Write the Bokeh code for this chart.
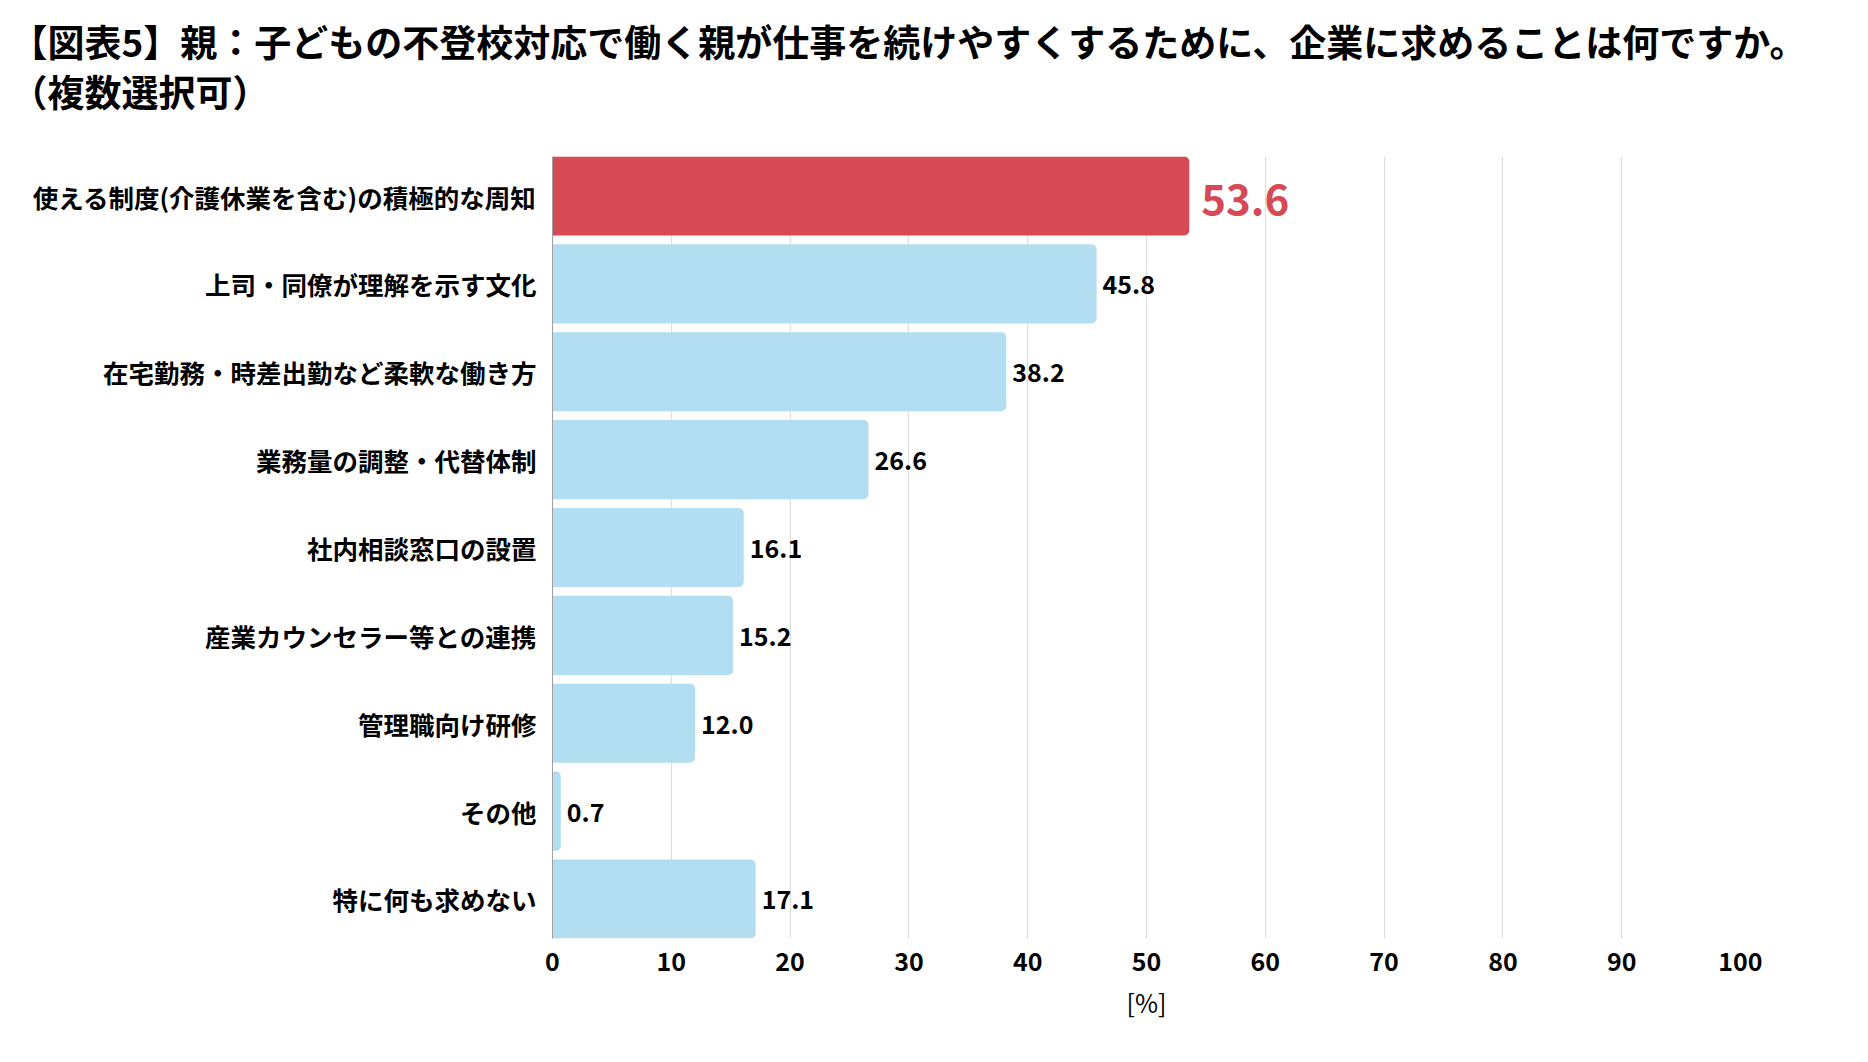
import numpy as np
from bokeh.plotting import figure
from bokeh.layouts import column
from bokeh.models import ColumnDataSource, Range1d, FixedTicker, Title
from bokeh.core.properties import value
from bokeh.embed import file_html
from bokeh.resources import INLINE

# data
categories = [
    "使える制度(介護休業を含む)の積極的な周知",
    "上司・同僚が理解を示す文化",
    "在宅勤務・時差出勤など柔軟な働き方",
    "業務量の調整・代替体制",
    "社内相談窓口の設置",
    "産業カウンセラー等との連携",
    "管理職向け研修",
    "その他",
    "特に何も求めない",
]
values = [53.6, 45.8, 38.2, 26.6, 16.1, 15.2, 12.0, 0.7, 17.1]
x_ticks = list(range(0, 101, 10))
title_lines = [
    "【図表5】親：子どもの不登校対応で働く親が仕事を続けやすくするために、企業に求めることは何ですか。",
    "（複数選択可）",
]
x_label = "[%]"

FONT = "Noto Sans CJK JP"
RED = "#d64a56"
BLUE = "#b3ddf0"

W = 1850
HT = 150          # height of the title strip
HP = 890          # height of the chart
FRAME_LEFT = 552

n = len(categories)
ypos = [n - 1 - i for i in range(n)]
colors = [RED] + [BLUE] * (n - 1)

src = ColumnDataSource(dict(
    y=ypos, v=values, color=colors,
    label=["{:.1f}".format(v) for v in values],
))

# title strip (an empty figure carrying only the title)
tf = figure(width=W, height=HT, output_backend="svg", toolbar_location=None,
            x_range=Range1d(0, 1), y_range=Range1d(0, 1),
            x_axis_type=None, y_axis_type=None,
            min_border_left=FRAME_LEFT, min_border_right=110,
            min_border_top=0, min_border_bottom=0)
tf.outline_line_color = None
tf.grid.visible = False
tf.title = Title(text="\n".join(title_lines), align="left",
                 offset=10 - FRAME_LEFT, standoff=24,
                 text_font=FONT, text_font_style="bold",
                 text_font_size="37px", text_line_height=0.93,
                 text_color="black")

p = figure(width=W, height=HP, output_backend="svg", toolbar_location=None,
           x_range=Range1d(0, 100), y_range=Range1d(-0.45, n - 1 + 0.45),
           min_border_left=FRAME_LEFT, min_border_right=110,
           min_border_top=156 - HT, min_border_bottom=102)
p.outline_line_color = None
p.background_fill_color = "white"
p.border_fill_color = "white"

# bars
p.hbar(y="y", left=0, right="v", height=0.9, source=src,
       fill_color="color", line_color=None,
       border_radius=(0, 5, 5, 0))

# value labels
src_main = ColumnDataSource({k: v[:1] for k, v in src.data.items()})
src_rest = ColumnDataSource({k: v[1:] for k, v in src.data.items()})
p.text(x="v", y="y", text="label", source=src_main,
       text_font=value(FONT), text_font_style="bold",
       text_font_size="42px", text_color=RED,
       text_align="left", text_baseline="middle", x_offset=12, y_offset=3)
p.text(x="v", y="y", text="label", source=src_rest,
       text_font=value(FONT), text_font_style="bold",
       text_font_size="25px", text_color="black",
       text_align="left", text_baseline="middle", x_offset=6, y_offset=1)

# axes
p.xaxis.ticker = FixedTicker(ticks=x_ticks)
p.xaxis.axis_line_color = None
p.xaxis.major_tick_line_color = None
p.xaxis.minor_tick_line_color = None
p.xaxis.major_label_text_font = FONT
p.xaxis.major_label_text_font_style = "bold"
p.xaxis.major_label_text_font_size = "25px"
p.xaxis.major_label_text_color = "black"
p.xaxis.major_label_standoff = 7
p.xaxis.axis_label = x_label
p.xaxis.axis_label_text_font = FONT
p.xaxis.axis_label_text_font_style = "normal"
p.xaxis.axis_label_text_font_size = "25px"
p.xaxis.axis_label_text_color = "black"
p.xaxis.axis_label_standoff = 10

p.yaxis.ticker = FixedTicker(ticks=ypos)
p.yaxis.major_label_overrides = {y: c for y, c in zip(ypos, categories)}
p.yaxis.axis_line_color = "#a0a0a0"
p.yaxis.major_tick_line_color = None
p.yaxis.minor_tick_line_color = None
p.yaxis.major_label_text_font = FONT
p.yaxis.major_label_text_font_style = "bold"
p.yaxis.major_label_text_font_size = "25.5px"
p.yaxis.major_label_text_color = "black"
p.yaxis.major_label_standoff = 10

p.xgrid.grid_line_color = "#dcdcdc"
p.xgrid.grid_line_width = 1
p.ygrid.grid_line_color = None

layout = column(tf, p, spacing=0)
open("out.html", "w").write(file_html(layout, INLINE))
